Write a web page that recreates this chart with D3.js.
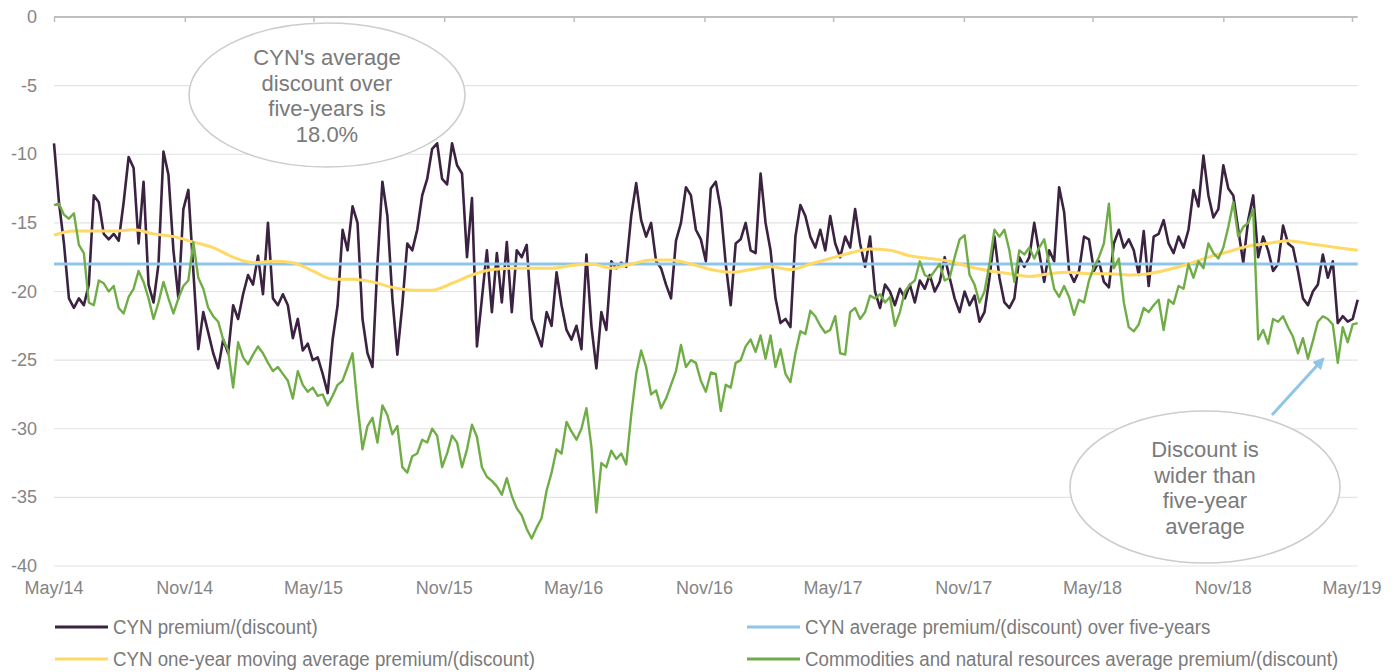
<!DOCTYPE html>
<html>
<head>
<meta charset="utf-8">
<script src="https://cdn.jsdelivr.net/npm/d3@7"></script>
<style>
body { margin: 0; background: #fff; }
text { font-family: "Liberation Sans", Arial, sans-serif; }
</style>
</head>
<body>
<script>
// weekly observations starting 1 May 2014
const startDate = "2014-05-01";
const endDate = "2019-05-01";

const tickLabels = ["May/14", "Nov/14", "May/15", "Nov/15", "May/16", "Nov/16", "May/17", "Nov/17", "May/18", "Nov/18", "May/19"];
const yTicks = [0, -5, -10, -15, -20, -25, -30, -35, -40];

const cynPremium = [
    -9.2, -13.5, -16.5, -20.5, -21.2, -20.5, -21.0, -19.5, -13.0, -13.5,
    -15.8, -16.2, -15.8, -16.3, -13.5, -10.2, -11.0, -16.5, -12.0, -19.5,
    -20.8, -18.0, -9.8, -11.5, -17.0, -20.5, -14.0, -12.6, -18.5, -24.2,
    -21.5, -23.0, -24.5, -25.6, -23.5, -24.5, -21.0, -22.0, -20.2, -18.8,
    -19.5, -17.4, -20.2, -15.0, -20.5, -21.0, -20.2, -21.0, -23.4, -22.0,
    -24.3, -23.8, -25.0, -24.8, -26.0, -27.4, -23.5, -21.0, -15.5, -17.0,
    -13.8, -15.0, -22.0, -24.5, -25.5, -18.0, -12.0, -14.5, -20.5, -24.6,
    -21.0, -16.5, -17.0, -15.5, -13.0, -11.8, -9.6, -9.2, -11.8, -12.2,
    -9.2, -10.8, -11.4, -17.5, -13.2, -24.0, -20.5, -17.0, -21.5, -17.2,
    -20.8, -16.4, -21.5, -17.0, -17.5, -16.6, -22.0, -23.0, -24.0, -21.5,
    -22.5, -18.6, -21.0, -22.8, -23.5, -22.5, -24.2, -17.3, -22.5, -25.6,
    -21.5, -22.8, -17.8, -18.3, -17.9, -18.2, -14.5, -12.1, -14.8, -16.0,
    -15.0, -17.8, -18.3, -19.5, -20.5, -16.3, -15.0, -12.4, -13.0, -15.5,
    -16.2, -17.8, -12.5, -12.0, -14.0, -18.0, -21.0, -16.5, -16.2, -15.0,
    -17.0, -17.2, -11.4, -15.0, -17.0, -20.5, -22.3, -22.0, -22.6, -16.0,
    -13.7, -14.5, -16.0, -16.8, -15.5, -17.0, -14.5, -16.5, -17.5, -16.0,
    -16.8, -14.0, -16.5, -18.2, -16.0, -20.0, -21.2, -19.5, -20.0, -21.0,
    -19.8, -20.5, -19.5, -20.8, -19.2, -19.8, -18.8, -20.0, -19.3, -17.5,
    -19.0, -20.5, -21.5, -20.0, -21.0, -20.3, -22.2, -21.5, -19.0, -16.0,
    -19.0, -20.8, -21.2, -20.5, -17.5, -18.2, -17.5, -15.0, -17.2, -19.3,
    -17.0, -17.8, -12.4, -14.2, -18.5, -19.3, -18.5, -16.0, -16.2, -18.5,
    -17.8, -19.3, -19.7, -16.5, -15.5, -16.8, -16.2, -17.0, -18.8, -15.6,
    -19.6, -16.0, -15.8, -14.8, -16.5, -17.2, -16.0, -16.8, -15.5, -12.6,
    -13.8, -10.1, -13.0, -14.6, -14.0, -10.8, -12.5, -13.0, -15.5, -17.9,
    -14.8, -13.0, -17.5, -16.0, -17.0, -18.5, -18.0, -15.2, -16.5, -16.8,
    -18.5, -20.5, -21.0, -20.0, -19.5, -17.3, -19.0, -17.8, -22.3, -21.8,
    -22.2, -22.0, -20.6
];

const sectorAverage = [
    -13.7, -13.6, -14.4, -14.7, -14.3, -16.6, -17.2, -20.8, -21.0, -19.2,
    -19.4, -20.0, -19.6, -21.2, -21.6, -20.4, -19.8, -18.5, -19.3, -20.5,
    -22.0, -20.8, -19.3, -20.5, -21.6, -20.5, -19.6, -19.2, -16.4, -19.0,
    -19.8, -21.2, -21.8, -22.2, -23.5, -24.3, -27.0, -23.7, -24.8, -25.3,
    -24.6, -24.0, -24.5, -25.2, -25.8, -25.5, -26.0, -26.5, -27.8, -25.8,
    -26.8, -27.3, -27.0, -27.6, -27.5, -28.3, -27.6, -26.8, -26.5, -25.5,
    -24.5, -28.3, -31.5, -29.8, -29.2, -31.0, -28.3, -29.0, -30.4, -29.8,
    -32.8, -33.2, -32.0, -31.8, -30.8, -31.0, -30.0, -30.5, -32.8, -31.8,
    -30.5, -31.0, -32.8, -31.5, -29.7, -30.6, -32.8, -33.5, -33.8, -34.2,
    -34.8, -33.6, -34.9, -35.8, -36.3, -37.3, -38.0, -37.2, -36.5, -34.5,
    -33.2, -31.5, -31.8, -29.5, -30.2, -30.8, -30.0, -28.5, -31.3, -36.1,
    -32.5, -32.8, -31.6, -32.2, -31.8, -32.6, -29.0, -26.0, -24.3, -25.5,
    -27.5, -27.2, -28.5, -27.8, -26.8, -25.8, -23.9, -25.5, -25.0, -25.2,
    -26.5, -27.3, -25.9, -26.0, -28.7, -26.8, -27.0, -25.2, -25.0, -24.0,
    -23.5, -24.4, -23.2, -24.9, -23.2, -25.5, -24.2, -26.0, -26.6, -24.5,
    -22.9, -23.1, -21.4, -21.8, -22.5, -23.0, -22.8, -21.8, -24.5, -24.6,
    -21.5, -21.2, -22.0, -21.5, -20.3, -20.5, -20.2, -20.8, -20.4, -22.5,
    -21.5, -20.0, -19.5, -19.2, -17.8, -18.8, -19.0, -18.5, -18.0, -19.2,
    -19.0, -17.5, -16.2, -15.9, -18.8, -19.5, -20.8, -20.0, -18.0, -15.5,
    -16.0, -15.5, -17.0, -19.3, -17.0, -17.3, -16.8, -17.6, -16.8, -16.2,
    -18.0, -19.8, -20.4, -19.6, -20.4, -21.7, -20.6, -20.8, -19.2, -18.2,
    -17.5, -16.5, -13.6, -18.3, -17.6, -20.8, -22.6, -22.9, -22.4, -21.2,
    -21.5, -21.0, -20.6, -22.8, -20.6, -20.9, -19.6, -19.8, -18.0, -19.0,
    -17.8, -18.3, -16.5, -17.2, -17.6, -16.8, -15.3, -13.5, -16.0, -15.3,
    -15.0, -14.0, -23.5, -22.8, -23.8, -22.0, -22.2, -21.8, -22.6, -23.3,
    -24.5, -23.4, -24.9, -23.6, -22.2, -21.8, -22.0, -22.4, -25.2, -22.6,
    -23.7, -22.4, -22.3
];

// one-year moving average, read every four weeks
const movingAverageWeeks = d3.range(0, 261, 4).concat([262]);
const movingAverage = [
    -15.9, -15.6, -15.6, -15.6, -15.5, -15.8, -16.0, -16.4, -16.8, -17.5,
    -17.9, -17.8, -17.9, -18.5, -19.1, -19.1, -19.3, -19.7, -19.9, -19.9,
    -19.4, -18.8, -18.4, -18.3, -18.3, -18.3, -18.1, -18.0, -18.3, -18.0,
    -17.7, -17.7, -18.0, -18.4, -18.6, -18.4, -18.2, -18.4, -18.0, -17.6,
    -17.2, -16.9, -17.0, -17.4, -17.6, -17.8, -18.2, -18.5, -18.7, -18.9,
    -18.7, -18.6, -18.7, -18.7, -18.8, -18.7, -18.4, -18.0, -17.5, -17.1,
    -16.7, -16.5, -16.3, -16.5, -16.7, -16.9, -17.0
];

const fiveYearAverage = -18.0;

const seriesNames = [
    "CYN premium/(discount)",
    "CYN average premium/(discount) over five-years",
    "CYN one-year moving average premium/(discount)",
    "Commodities and natural resources average premium/(discount)"
];
const seriesColors = ["#3b2241", "#8fc5e9", "#ffd966", "#70ad47"];

const parseDay = d3.timeParse("%Y-%m-%d");
const parseTick = d3.timeParse("%b/%y");
const start = parseDay(startDate);
const weekDate = i => d3.timeDay.offset(start, 7 * i);

const cynData = cynPremium.map((v, i) => ({ date: weekDate(i), value: v }));
const sectorData = sectorAverage.map((v, i) => ({ date: weekDate(i), value: v }));
const avgData = movingAverage.map((v, i) => ({ date: weekDate(movingAverageWeeks[i]), value: v }));
const lastDate = weekDate(cynPremium.length - 1);
const fiveYearData = [{ date: start, value: fiveYearAverage }, { date: lastDate, value: fiveYearAverage }];

const width = 1396, height = 672;

const svg = d3.select("body").append("svg")
    .attr("width", width)
    .attr("height", height);

const x = d3.scaleTime()
    .domain([start, parseDay(endDate)])
    .range([54, 1352]);

const y = d3.scaleLinear()
    .domain([0, -40])
    .range([17, 566]);

const xEnd = x(lastDate);

// gridlines
svg.append("g")
    .selectAll("line")
    .data(yTicks.filter(d => d !== 0))
    .enter().append("line")
    .attr("x1", x(start))
    .attr("x2", xEnd)
    .attr("y1", d => y(d))
    .attr("y2", d => y(d))
    .attr("stroke", "#e3e3e3")
    .attr("stroke-width", 1.2);

// y labels
svg.append("g")
    .selectAll("text")
    .data(yTicks)
    .enter().append("text")
    .attr("x", 37)
    .attr("y", d => y(d) + 6)
    .attr("text-anchor", "end")
    .attr("font-size", "18px")
    .attr("fill", "#858585")
    .text(d => d);

// category axis sits at zero, labels at the bottom
const tickDates = tickLabels.map(parseTick);
const xAxis = svg.append("g")
    .attr("transform", "translate(0," + y(0) + ")")
    .call(d3.axisBottom(x).tickValues(tickDates).tickSize(5).tickFormat(""));
xAxis.select(".domain").remove();
xAxis.selectAll(".tick line").attr("stroke", "#bfbfbf").attr("stroke-width", 1.5);
svg.append("line")
    .attr("x1", x(start))
    .attr("x2", xEnd)
    .attr("y1", y(0))
    .attr("y2", y(0))
    .attr("stroke", "#bfbfbf")
    .attr("stroke-width", 1.8);

svg.append("g")
    .selectAll("text")
    .data(tickDates)
    .enter().append("text")
    .attr("x", d => x(d))
    .attr("y", 594)
    .attr("text-anchor", "middle")
    .attr("font-size", "18px")
    .attr("fill", "#858585")
    .text((d, i) => tickLabels[i]);

const line = d3.line()
    .x(d => x(d.date))
    .y(d => y(d.value));

const smooth = d3.line()
    .x(d => x(d.date))
    .y(d => y(d.value))
    .curve(d3.curveMonotoneX);

svg.append("path")
    .datum(cynData)
    .attr("fill", "none")
    .attr("stroke", seriesColors[0])
    .attr("stroke-width", 2.6)
    .attr("stroke-linejoin", "round")
    .attr("d", line);

svg.append("path")
    .datum(fiveYearData)
    .attr("fill", "none")
    .attr("stroke", seriesColors[1])
    .attr("stroke-width", 3)
    .attr("d", line);

svg.append("path")
    .datum(avgData)
    .attr("fill", "none")
    .attr("stroke", seriesColors[2])
    .attr("stroke-width", 3)
    .attr("d", smooth);

svg.append("path")
    .datum(sectorData)
    .attr("fill", "none")
    .attr("stroke", seriesColors[3])
    .attr("stroke-width", 2.4)
    .attr("stroke-linejoin", "round")
    .attr("d", line);

// callouts
function callout(cx, cy, rx, ry, lines, firstBaseline) {
    const g = svg.append("g");
    g.append("ellipse")
        .attr("cx", cx).attr("cy", cy)
        .attr("rx", rx).attr("ry", ry)
        .attr("fill", "#fff")
        .attr("stroke", "#cdcdcd")
        .attr("stroke-width", 1.6);
    g.selectAll("text")
        .data(lines)
        .enter().append("text")
        .attr("x", cx)
        .attr("y", (d, i) => firstBaseline + i * 25.7)
        .attr("text-anchor", "middle")
        .attr("font-size", "22px")
        .attr("fill", "#7a7a7a")
        .text(d => d);
}

callout(327, 95, 138, 72, ["CYN's average", "discount over", "five-years is", "18.0%"], 65);
callout(1205, 487, 135, 76, ["Discount is", "wider than", "five-year", "average"], 457);

svg.append("defs").append("marker")
    .attr("id", "arrow")
    .attr("viewBox", "0 0 10 10")
    .attr("refX", 8)
    .attr("refY", 5)
    .attr("markerWidth", 4)
    .attr("markerHeight", 4)
    .attr("orient", "auto")
    .append("path")
    .attr("d", "M0,0L10,5L0,10Z")
    .attr("fill", seriesColors[1]);

svg.append("line")
    .attr("x1", 1272).attr("y1", 415)
    .attr("x2", 1323).attr("y2", 359)
    .attr("stroke", seriesColors[1])
    .attr("stroke-width", 3)
    .attr("marker-end", "url(#arrow)");

// legend
const legendPos = [[55, 627], [747, 627], [55, 659], [747, 659]];
const legend = svg.append("g")
    .selectAll("g")
    .data(seriesNames)
    .enter().append("g")
    .attr("transform", (d, i) => "translate(" + legendPos[i][0] + "," + legendPos[i][1] + ")");

legend.append("line")
    .attr("x1", 0).attr("x2", 53)
    .attr("stroke", (d, i) => seriesColors[i])
    .attr("stroke-width", 3);

legend.append("text")
    .attr("transform", "translate(58,7) scale(0.935,1)")
    .attr("font-size", "20px")
    .attr("fill", "#7a7a7a")
    .text(d => d);
</script>
</body>
</html>
